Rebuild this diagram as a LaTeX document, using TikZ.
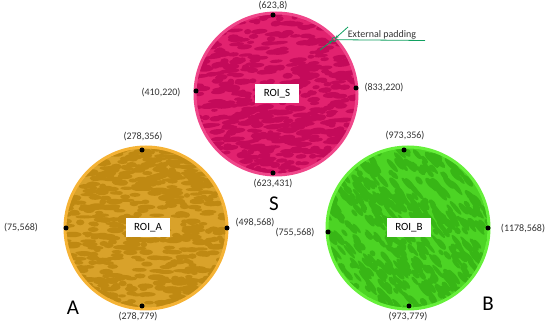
\documentclass[tikz,border=0pt]{standalone}
\usepackage{fontspec}
\setmainfont{Carlito}
\usetikzlibrary{arrows.meta,calc}
\definecolor{sBase}{HTML}{E2226F}
\definecolor{sBlob}{HTML}{C40A5A}
\definecolor{sRing}{HTML}{F0468A}
\definecolor{aBase}{HTML}{D9A22A}
\definecolor{aBlob}{HTML}{BF8912}
\definecolor{aRing}{HTML}{F5B335}
\definecolor{bBase}{HTML}{4CD424}
\definecolor{bBlob}{HTML}{38B616}
\definecolor{bRing}{HTML}{66F03A}
\definecolor{padGreen}{HTML}{10A060}
\definecolor{lblGray}{HTML}{333333}
\newcommand\blobcircle[7]{%
  \begin{scope}
    \clip (#1,#2) circle (80);
    \fill[#4] (#1,#2) circle (80);
    \foreach \k in {1,...,650}{
      \pgfmathsetmacro\bx{#1+84*rand}
      \pgfmathsetmacro\by{#2+84*rand}
      \pgfmathsetmacro\bw{3+6*rnd}
      \pgfmathsetmacro\bh{1.6+1.4*rnd}
      \fill[#5, shift={(\bx,\by)}, rotate=#7] (0,0) ellipse ({\bw} and {\bh});
    }
  \end{scope}
  \draw[#6, line width=3pt] (#1,#2) circle (81);
}
\tikzset{
  coordlbl/.style={font=\fontsize{10}{12}\selectfont, text=lblGray, inner sep=0pt},
  biglbl/.style={font=\fontsize{21}{24}\selectfont, text=black, inner sep=0pt},
  roibox/.style={fill=white, minimum width=44pt, minimum height=19pt, inner sep=0pt, font=\fontsize{11}{13}\selectfont},
  dotmark/.style={circle, fill=black, inner sep=0pt, minimum size=5pt},
  padline/.style={padGreen, line width=0.8pt},
}
\begin{document}
\begin{tikzpicture}[x=1pt, y=-1pt]
  \useasboundingbox (0,0) rectangle (550,326);
  \pgfmathsetseed{7}
  % circles
  \blobcircle{276}{94}{80}{sBase}{sBlob}{sRing}{5}
  \blobcircle{146}{228}{80}{aBase}{aBlob}{aRing}{0}
  \blobcircle{408}{228}{80}{bBase}{bBlob}{bRing}{-50}
  % ROI boxes
  \node[roibox] (roiS) at (277,94) {ROI\_S};
  \node[roibox] (roiA) at (148,228) {ROI\_A};
  \node[roibox] (roiB) at (409,228) {ROI\_B};
  % dots S
  \node[dotmark] (sT) at (273,15) {};
  \node[dotmark] (sL) at (196,91) {};
  \node[dotmark] (sR) at (356,88) {};
  \node[dotmark] (sB) at (273,173) {};
  % dots A
  \node[dotmark] (aT) at (142,150) {};
  \node[dotmark] (aL) at (66,228) {};
  \node[dotmark] (aR) at (227,228) {};
  \node[dotmark] (aB) at (142,306) {};
  % dots B
  \node[dotmark] (bT) at (404,150) {};
  \node[dotmark] (bL) at (328,232) {};
  \node[dotmark] (bR) at (488,228) {};
  \node[dotmark] (bB) at (409,306) {};
  % coordinate labels
  \node[coordlbl] (lsT) at (273,6) {(623,8)};
  \node[coordlbl] (lsL) at (161,93) {(410,220)};
  \node[coordlbl] (lsR) at (384,88) {(833,220)};
  \node[coordlbl] (lsB) at (273,184) {(623,431)};
  \node[coordlbl] (laT) at (143,137) {(278,356)};
  \node[coordlbl] (laL) at (21,228) {(75,568)};
  \node[coordlbl] (laR) at (255,223) {(498,568)};
  \node[coordlbl] (laB) at (138,317) {(278,779)};
  \node[coordlbl] (lbT) at (405,136) {(973,356)};
  \node[coordlbl] (lbL) at (295,233) {(755,568)};
  \node[coordlbl] (lbR) at (523,229) {(1178,568)};
  \node[coordlbl] (lbB) at (408,317) {(973,779)};
  % big letters
  \node[biglbl] (lS) at (274,204) {S};
  \node[biglbl] (lA) at (73,308) {A};
  \node[biglbl] (lB) at (488,304) {B};
  % external padding
  \coordinate (pp) at (334,39.5);
  \coordinate (pd1) at (320,50);
  \coordinate (pd2) at (348,27);
  \coordinate (ph) at (425,40.5);
  \draw[padline, -{Stealth[length=3.5pt,width=3pt]}] (pd1) -- ($(pp)!2pt!(pd1)$);
  \draw[padline, -{Stealth[length=3.5pt,width=3pt]}] (pd2) -- ($(pp)!2pt!(pd2)$);
  \draw[padline] (pp) circle (2);
  \draw[padline] ($(pp)+(2,0.2)$) -- (ph);
  \node[coordlbl, anchor=base] (lpad) at (382,38) {External padding};
\end{tikzpicture}
\end{document}
